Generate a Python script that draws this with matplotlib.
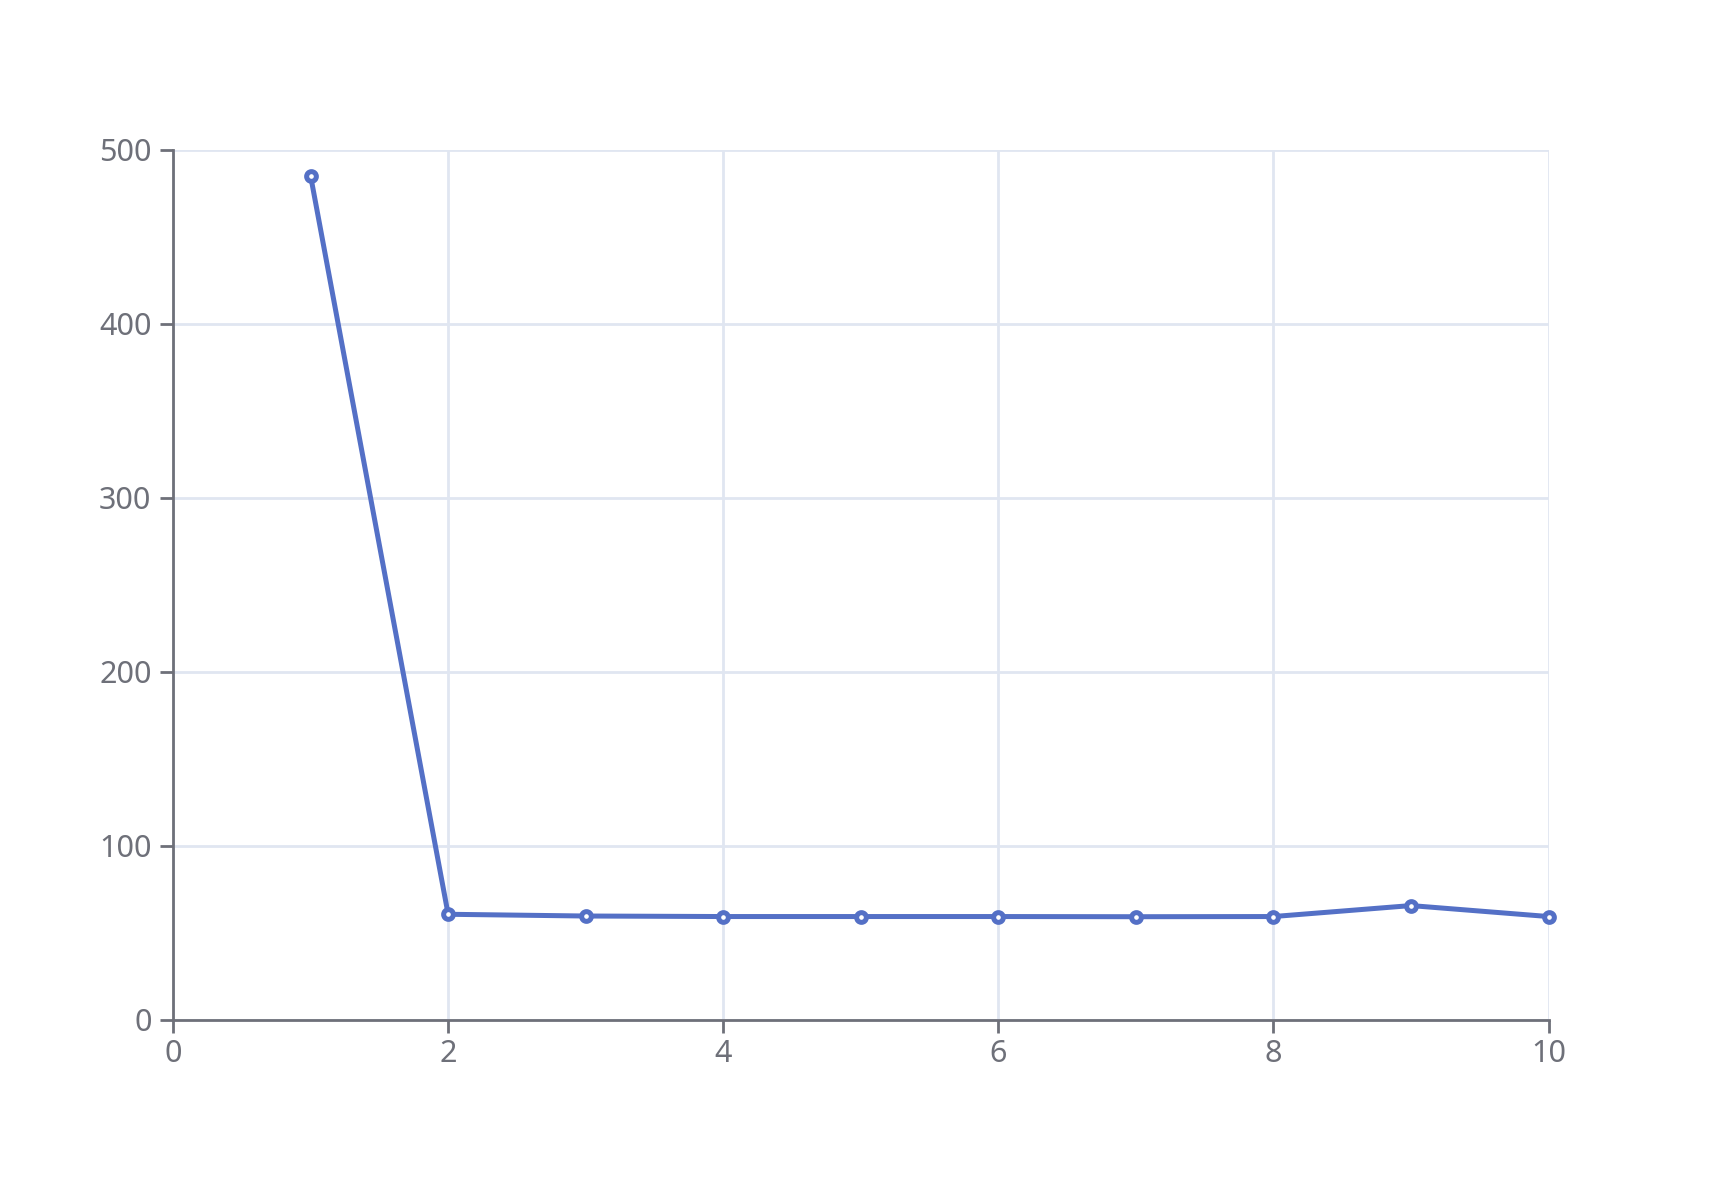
import matplotlib
matplotlib.use("Agg")
import matplotlib.pyplot as plt

x_vals = [1, 2, 3, 4, 5, 6, 7, 8, 9, 10]
y_vals = [485, 60.7, 59.7, 59.4, 59.4, 59.4, 59.3, 59.4, 65.7, 59.4]
x_ticks = [0, 2, 4, 6, 8, 10]
y_ticks = [0, 100, 200, 300, 400, 500]

axis_color = "#6E7079"
grid_color = "#E0E6F1"
line_color = "#5470C6"

plt.rcParams["font.family"] = ["Noto Sans", "DejaVu Sans"]

fig = plt.figure(figsize=(17.2, 11.95), dpi=100)
ax = fig.add_axes([0.1006, 0.1465, 0.7997, 0.7283])

ax.plot(x_vals, y_vals, color=line_color, linewidth=3.6, marker="o",
        markersize=7, markerfacecolor="white", markeredgecolor=line_color,
        markeredgewidth=3.6, clip_on=False, zorder=5)

ax.set_xlim(0, 10)
ax.set_ylim(0, 500)
ax.set_xticks(x_ticks)
ax.set_yticks(y_ticks)
ax.set_xticklabels([str(t) for t in x_ticks])
ax.set_yticklabels([str(t) for t in y_ticks])

ax.grid(True, color=grid_color, linewidth=2)
ax.set_axisbelow(True)

for side in ["top", "right"]:
    ax.spines[side].set_visible(False)
for side in ["left", "bottom"]:
    ax.spines[side].set_color(axis_color)
    ax.spines[side].set_linewidth(2)
    ax.spines[side].set_zorder(4)

ax.tick_params(axis="both", direction="out", length=9.5, width=2,
               color=axis_color, labelcolor=axis_color, labelsize=22)
ax.tick_params(axis="x", pad=4)
ax.tick_params(axis="y", pad=6)

fig.savefig("out.png", dpi=100)
